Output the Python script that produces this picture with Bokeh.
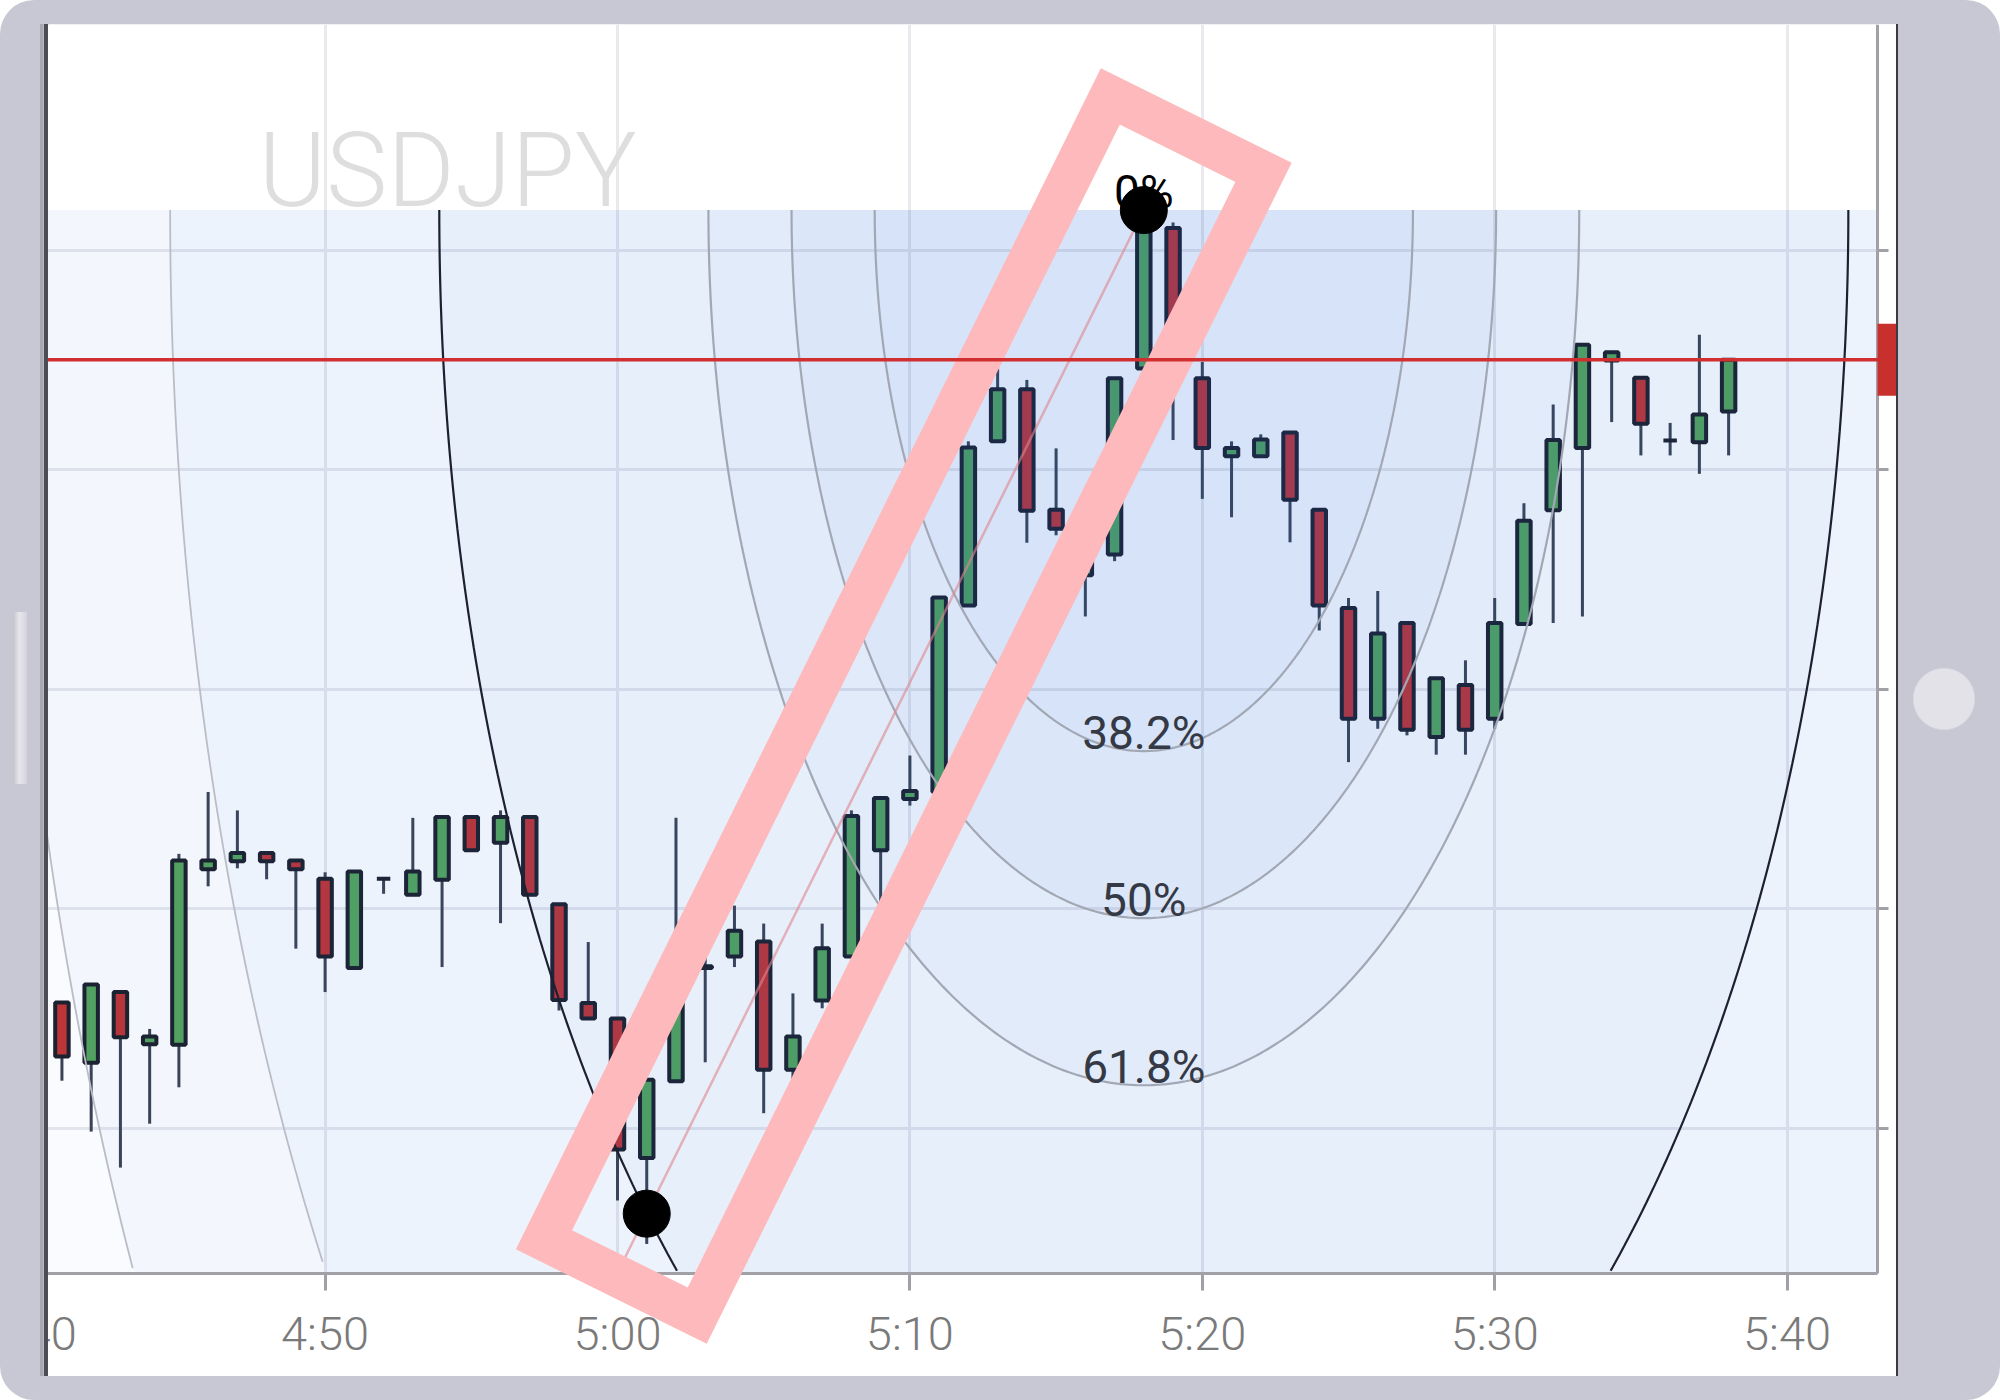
import math
import numpy as np
from bokeh.plotting import figure
from bokeh.layouts import column
from bokeh.models import (Range1d, FixedTicker, CustomJSTickFormatter, BoxAnnotation,
                          PolyAnnotation, Span, Label, ColumnDataSource)
from bokeh.core.properties import value
from bokeh.embed import file_html
from bokeh.resources import INLINE

# ---------------- data ----------------
symbol = "USDJPY"
first_minute = 281  # 4:41, one candle per minute

opens = [112.2286, 112.2149, 112.2310, 112.2191, 112.2190, 112.2590, 112.2608, 112.2627, 112.2610, 112.2568,
         112.2365, 112.2568, 112.2532, 112.2566, 112.2709, 112.2650, 112.2709, 112.2510, 112.2285, 112.2250,
         112.1932, 112.2107, 112.2365, 112.2391, 112.2425, 112.2133, 112.2291, 112.2391, 112.2633, 112.2750,
         112.2766, 112.3191, 112.3565, 112.3684, 112.3409, 112.3260, 112.3307, 112.3731, 112.4051, 112.3709,
         112.3531, 112.3531, 112.3585, 112.3409, 112.3185, 112.2933, 112.3151, 112.2891, 112.3010, 112.2933,
         112.3149, 112.3408, 112.3550, 112.3749, 112.3710, 112.3567, 112.3563, 112.3633]
highs = [112.2286, 112.2327, 112.2310, 112.2226, 112.2625, 112.2766, 112.2724, 112.2627, 112.2610, 112.2583,
         112.2585, 112.2568, 112.2707, 112.2709, 112.2709, 112.2724, 112.2709, 112.2510, 112.2424, 112.2250,
         112.2110, 112.2707, 112.2405, 112.2507, 112.2466, 112.2307, 112.2466, 112.2724, 112.2752, 112.2849,
         112.3209, 112.3565, 112.3731, 112.3705, 112.3549, 112.3310, 112.3709, 112.4087, 112.4064, 112.3746,
         112.3565, 112.3581, 112.3585, 112.3409, 112.3208, 112.3224, 112.3151, 112.3025, 112.3066, 112.3208,
         112.3424, 112.3649, 112.3785, 112.3768, 112.3710, 112.3607, 112.3808, 112.3751]
lows = [112.2108, 112.1992, 112.1910, 112.2010, 112.2093, 112.2551, 112.2592, 112.2567, 112.2409, 112.2310,
        112.2365, 112.2534, 112.2532, 112.2367, 112.2633, 112.2467, 112.2532, 112.2268, 112.2250, 112.1835,
        112.1736, 112.2107, 112.2150, 112.2367, 112.2034, 112.2108, 112.2273, 112.2391, 112.2512, 112.2735,
        112.2766, 112.3191, 112.3565, 112.3334, 112.3351, 112.3166, 112.3292, 112.3711, 112.3568, 112.3434,
        112.3392, 112.3531, 112.3335, 112.3134, 112.2834, 112.2910, 112.2895, 112.2851, 112.2851, 112.2910,
        112.3149, 112.3151, 112.3166, 112.3609, 112.3533, 112.3533, 112.3491, 112.3533]
closes = [112.2163, 112.2327, 112.2207, 112.2209, 112.2610, 112.2610, 112.2627, 112.2608, 112.2590, 112.2391,
          112.2585, 112.2568, 112.2585, 112.2709, 112.2633, 112.2709, 112.2532, 112.2292, 112.2250, 112.1951,
          112.2110, 112.2348, 112.2369, 112.2450, 112.2133, 112.2209, 112.2410, 112.2711, 112.2752, 112.2768,
          112.3209, 112.3551, 112.3684, 112.3407, 112.3366, 112.3300, 112.3709, 112.4057, 112.3704, 112.3550,
          112.3550, 112.3569, 112.3432, 112.3191, 112.2933, 112.3127, 112.2908, 112.3025, 112.2908, 112.3151,
          112.3384, 112.3568, 112.3785, 112.3768, 112.3605, 112.3567, 112.3626, 112.3751]

tick_minutes = [280, 290, 300, 310, 320, 330, 340]
tick_labels = ["4:40", "4:50", "5:00", "5:10", "5:20", "5:30", "5:40"]
price_ticks = [112.20, 112.25, 112.30, 112.35, 112.40]

fib_low_time, fib_low_price = 301, 112.1805
fib_high_time, fib_high_price = 318, 112.4092
fib_levels = [0.382, 0.5, 0.618, 1.0, 1.382, 1.618]
fib_level_labels = ["38.2%", "50%", "61.8%", "100%", "138.2%", "161.8%"]

# ---------------- layout / style ----------------
W, H = 2000, 1400
DX = 30                                      # canvas is shifted left by DX page pixels
SCREEN_L, SCREEN_R, SCREEN_T, SCREEN_B = 48, 1896, 24, 1376
FL, FR, FT, FB = 20, 1896, 24, 1376          # plot frame in page pixels
AXIS_X_PX, AXIS_Y_PX = 1877, 1273           # where the price axis / time axis lines sit
SX, SY = 29.24, 4388.1                      # pixels per minute / per price unit
X_START = 300 - (617.0 - FL) / SX
X_END = X_START + (FR - FL) / SX
Y_START = 112.20 - (FB - 1127.6) / SY
Y_END = Y_START + (FB - FT) / SY
BEZEL = "#c8c8d4"
SHADE = "#3564c9"
SHADE_ALPHA = 0.026
ARC_RATIO = 2.01
GREEN, RED = "#56a55b", "#c13434"
LIGHT_FONT = "Roboto Light, Roboto"


def to_px(t, pr):
    return FL + (t - X_START) * SX, FB - (pr - Y_START) * SY


def to_data(x, y):
    return X_START + (x - FL) / SX, Y_START + (FB - y) / SY


X_AXIS_T, Y_AXIS_P = to_data(AXIS_X_PX, AXIS_Y_PX)

p = figure(width=W, height=H, x_range=Range1d(X_START, X_END), y_range=Range1d(Y_START, Y_END),
           y_axis_location="right", toolbar_location=None, output_backend="svg",
           min_border_left=FL + DX, min_border_right=W - FR - DX, min_border_top=FT,
           min_border_bottom=H - FB)
p.border_fill_color = "white"
p.background_fill_color = "white"
p.outline_line_color = None
p.styles = {
    "clip-path": f"inset({SCREEN_T}px {W - SCREEN_R - DX}px {H - SCREEN_B}px {SCREEN_L + DX}px)",
    "transform": f"translateX(-{DX}px)",
}

# axes
p.xaxis.ticker = FixedTicker(ticks=tick_minutes)
p.xaxis.major_label_overrides = dict(zip(tick_minutes, tick_labels))
p.xaxis.fixed_location = Y_AXIS_P
p.xaxis.bounds = (X_START, X_AXIS_T)
p.yaxis.ticker = FixedTicker(ticks=price_ticks)
p.yaxis.formatter = CustomJSTickFormatter(code="return ''")
p.yaxis.fixed_location = X_AXIS_T
p.yaxis.bounds = (Y_AXIS_P, Y_END)
for ax in (p.xaxis[0], p.yaxis[0]):
    ax.axis_line_color = "#a0a0a6"
    ax.axis_line_width = 3
    ax.major_tick_line_color = "#a0a0a6"
    ax.major_tick_line_width = 3
    ax.major_tick_in = 0
    ax.minor_tick_line_color = None
p.xaxis.major_tick_out = 17
p.yaxis.major_tick_out = 11
p.xaxis.major_label_text_font = LIGHT_FONT
p.xaxis.major_label_text_font_size = "47px"
p.xaxis.major_label_text_color = "#7a7a7a"
p.xaxis.major_label_standoff = 15

p.xgrid.ticker = FixedTicker(ticks=tick_minutes)
p.ygrid.ticker = FixedTicker(ticks=price_ticks)
p.grid.grid_line_color = "#e9e9ee"
p.grid.grid_line_width = 3

# keep grid lines inside the axes
p.add_layout(BoxAnnotation(left=X_START - 1, right=X_END + 1, top=Y_AXIS_P, bottom=Y_START - 1,
                           fill_color="white", fill_alpha=1, line_color=None, level="underlay"))
p.add_layout(BoxAnnotation(left=X_AXIS_T, right=X_END + 1, top=Y_END + 1, bottom=Y_START - 1,
                           fill_color="white", fill_alpha=1, line_color=None, level="underlay"))

# watermark
wx, wy = to_data(258, 170)
p.add_layout(Label(x=wx, y=wy, text=symbol, text_font=LIGHT_FONT, text_font_size="103px",
                   text_color="#dedede", text_align="left", text_baseline="alphabetic"))

# candles
times = [first_minute + i for i in range(len(opens))]
src = ColumnDataSource(dict(
    t=times, o=opens, h=highs, l=lows, c=closes,
    top=[max(o, c) for o, c in zip(opens, closes)],
    bottom=[min(o, c) for o, c in zip(opens, closes)],
    color=[GREEN if c >= o else RED for o, c in zip(opens, closes)],
))
p.segment(x0="t", y0="h", x1="t", y1="l", line_color="#3b4252", line_width=3, source=src)
p.vbar(x="t", width=0.46, top="top", bottom="bottom", fill_color="color", line_color="#1b1f2b",
       line_width=4, source=src)

# fibonacci arcs
hx, hy = to_px(fib_high_time, fib_high_price)
lx, ly = to_px(fib_low_time, fib_low_price)
r_px = math.hypot(lx - hx, (ly - hy) / ARC_RATIO)
theta = np.linspace(np.pi, 2 * np.pi, 361)
fill_xs, fill_ys, line_xs, line_ys = [], [], [], []
for f in fib_levels:
    hr = f * r_px / SX
    vr = f * r_px * ARC_RATIO / SY
    ax_ = fib_high_time + hr * np.cos(theta)
    ay_ = fib_high_price + vr * np.sin(theta)
    fill_xs.append(list(np.minimum(ax_, X_AXIS_T)))
    fill_ys.append(list(np.maximum(ay_, Y_AXIS_P)))
    inside = (ax_ <= X_AXIS_T) & (ay_ >= Y_AXIS_P)
    line_xs.append([float(v) if ok else float("nan") for v, ok in zip(ax_, inside)])
    line_ys.append([float(v) if ok else float("nan") for v, ok in zip(ay_, inside)])

p.quad(left=X_START - 2, right=X_AXIS_T, top=fib_high_price, bottom=Y_AXIS_P,
       fill_color=SHADE, fill_alpha=SHADE_ALPHA, line_color=None)
p.patches(fill_xs, fill_ys, fill_color=SHADE, fill_alpha=SHADE_ALPHA, line_color=None)
arc_colors = ["#1c2030" if f == 1.0 else ("#a2a7b4" if f < 1 else "#babdc6") for f in fib_levels]
arc_widths = [2.2 if f <= 1.0 else 1.8 for f in fib_levels]
p.multi_line(xs="xs", ys="ys", line_color="color", line_width="w",
             source=ColumnDataSource(dict(xs=line_xs, ys=line_ys, color=arc_colors, w=arc_widths)))

lab_t, lab_p, lab_txt, lab_col = [fib_high_time], [fib_high_price], ["0%"], ["#000000"]
for f, txt in zip(fib_levels, fib_level_labels):
    yv = fib_high_price - f * r_px * ARC_RATIO / SY
    if yv - 40 / SY > Y_AXIS_P:
        lab_t.append(fib_high_time)
        lab_p.append(yv)
        lab_txt.append(txt)
        lab_col.append("#353945")
p.text(x="t", y="p", text="txt", text_color="col", text_font=value("Roboto"),
       text_font_size=value("46px"), text_align="center", text_baseline="alphabetic", y_offset=-18,
       source=ColumnDataSource(dict(t=lab_t, p=lab_p, txt=lab_txt, col=lab_col)))

# trend line from the high through the low down to the time axis
s_end = (fib_high_price - Y_AXIS_P) / (fib_high_price - fib_low_price)
x_end = fib_high_time + s_end * (fib_low_time - fib_high_time)
p.line([fib_high_time, x_end], [fib_high_price, Y_AXIS_P], line_color="#e0868e", line_alpha=0.6,
       line_width=2.5)
p.scatter([fib_low_time, fib_high_time], [fib_low_price, fib_high_price], size=47, color="black")

# highlight frame around the swing
L = math.hypot(hx - lx, hy - ly)
ux, uy = (hx - lx) / L, (hy - ly) / L
nx, ny = -uy, ux
top_c = (hx + ux * 87 + nx * 5, hy + uy * 87 + ny * 5)
bot_c = (lx - ux * 69 + nx * 5, ly - uy * 69 + ny * 5)
hw = 85.5
corners = [(bot_c[0] - nx * hw, bot_c[1] - ny * hw), (top_c[0] - nx * hw, top_c[1] - ny * hw),
           (top_c[0] + nx * hw, top_c[1] + ny * hw), (bot_c[0] + nx * hw, bot_c[1] + ny * hw)]
cd = [to_data(x, y) for x, y in corners]
p.add_layout(PolyAnnotation(xs=[c[0] for c in cd], ys=[c[1] for c in cd], fill_color=None, fill_alpha=0,
                            line_color="#fdb9bb", line_width=42, line_alpha=1, line_join="miter"))

# current price line and tag
last = closes[-1]
p.add_layout(Span(location=last, dimension="width", line_color="#d12f2f", line_width=3.5))
p.add_layout(BoxAnnotation(left=X_AXIS_T, right=X_END + 1, top=last + 36 / SY, bottom=last - 36 / SY,
                           fill_color="#c8302e", fill_alpha=1, line_color=None))

# tablet bezel (CSS background of the wrapping layout)
layers = [
    ("radial-gradient(circle at 1944px 699px, #e2e2e8 30px, rgba(0,0,0,0) 31.5px)", "2000px 1400px", "0px 0px"),
    ("linear-gradient(to right, #c4c4cc, #e6e6ec 45%, #d4d4da)", "14px 172px", "13px 612px"),
    ("linear-gradient(#a9a9b0, #a9a9b0)", f"3.5px {SCREEN_B - SCREEN_T}px", f"40px {SCREEN_T}px"),
    ("linear-gradient(#4d4d55, #4d4d55)", f"4.5px {SCREEN_B - SCREEN_T}px", f"43.5px {SCREEN_T}px"),
    ("linear-gradient(#3a3a40, #3a3a40)", f"2px {SCREEN_B - SCREEN_T}px", f"{SCREEN_R}px {SCREEN_T}px"),
]
root = column(p, width=W, height=H, styles={
    "background-color": BEZEL,
    "border-radius": "34px",
    "overflow": "hidden",
    "background-image": ", ".join(l[0] for l in layers),
    "background-size": ", ".join(l[1] for l in layers),
    "background-position": ", ".join(l[2] for l in layers),
    "background-repeat": "no-repeat",
})

open("out.html", "w").write(file_html(root, INLINE))
